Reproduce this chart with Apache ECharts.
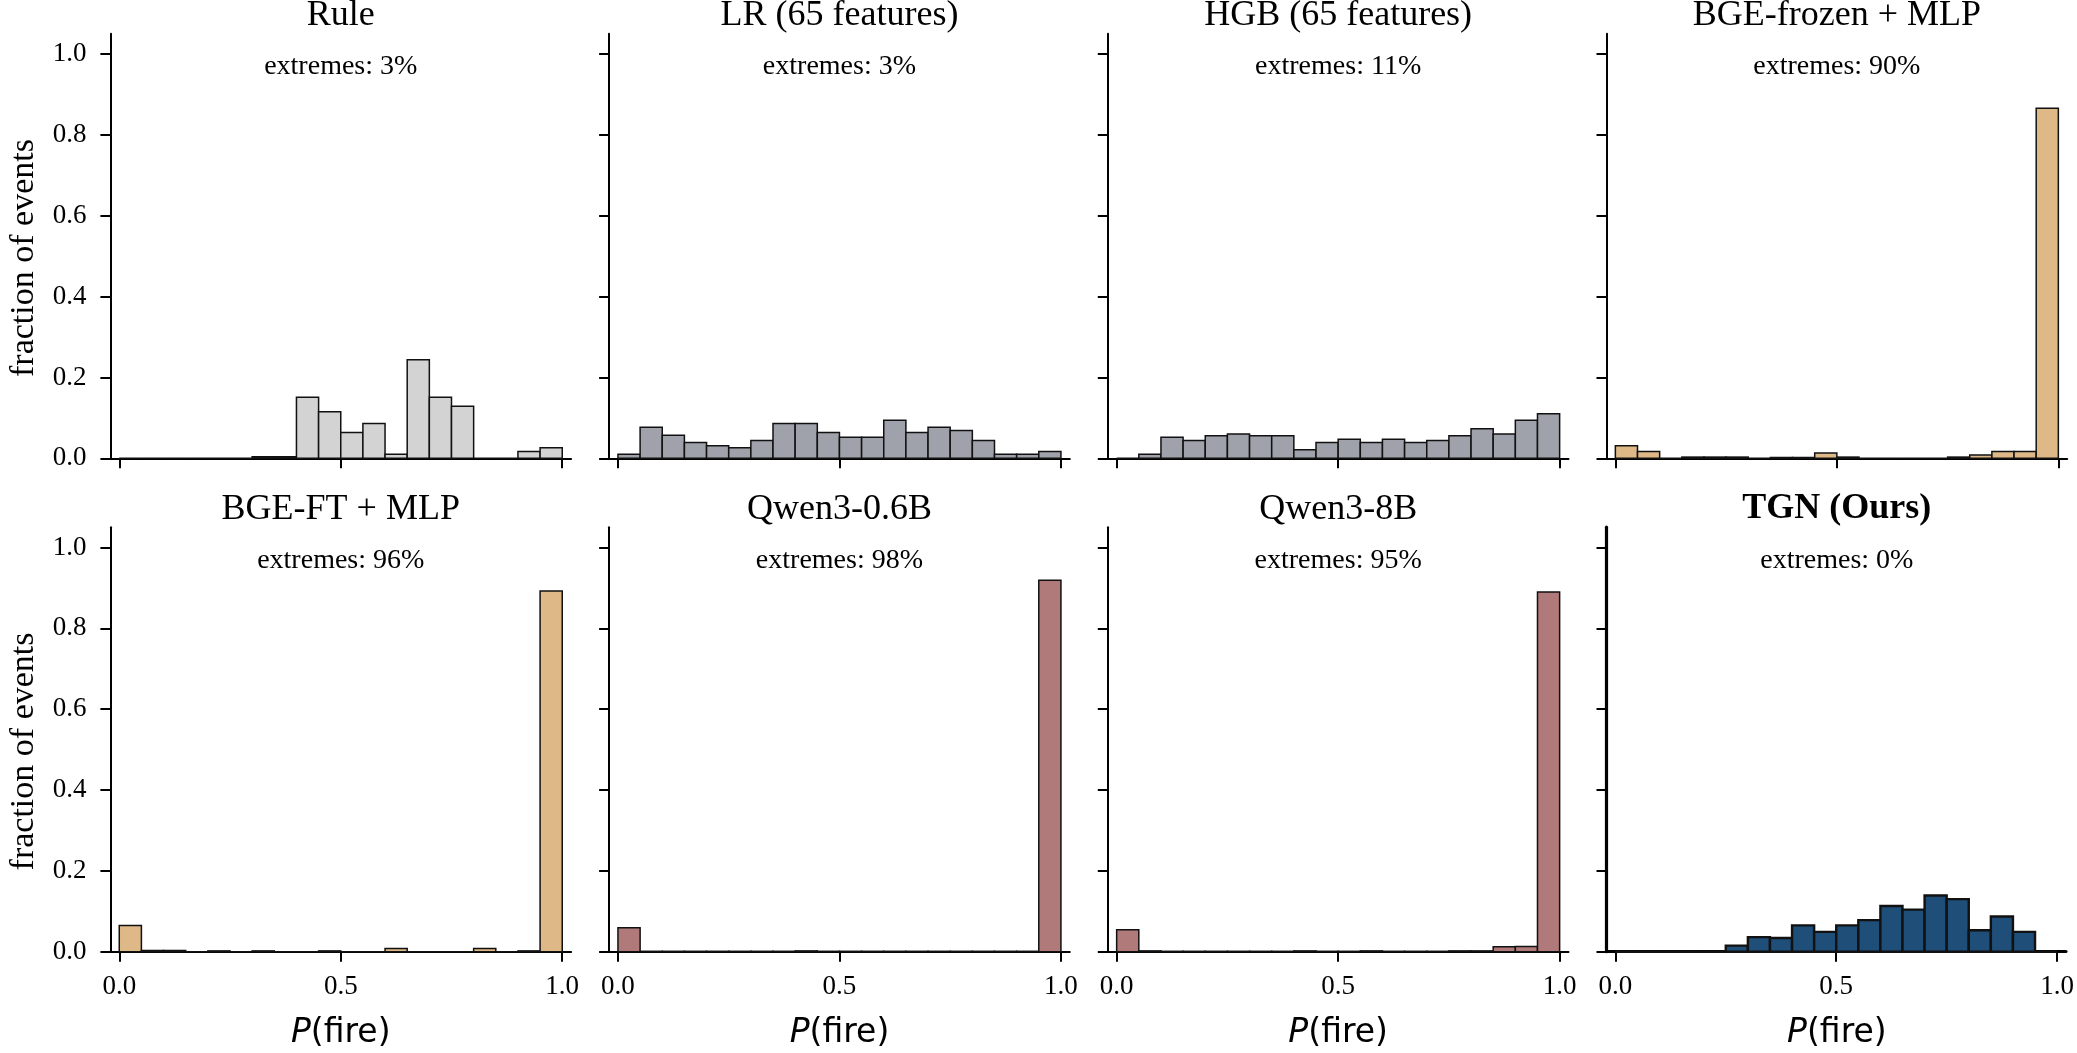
<!DOCTYPE html>
<html>
<head>
<meta charset="utf-8">
<script src="https://cdn.jsdelivr.net/npm/echarts@6/dist/echarts.min.js"></script>
<style>
  html, body { margin: 0; padding: 0; background: #fff; }
  #chart { width: 2077px; height: 1053px; }
</style>
</head>
<body>
<div id="chart"></div>
<script>
// 直方图的分箱左边界（宽 0.05）
const binLeft = [0.00, 0.05, 0.10, 0.15, 0.20, 0.25, 0.30, 0.35, 0.40, 0.45,
  0.50, 0.55, 0.60, 0.65, 0.70, 0.75, 0.80, 0.85, 0.90, 0.95]
const binWidth = 0.05

const panelNames = ['Rule', 'LR (65 features)', 'HGB (65 features)', 'BGE-frozen + MLP',
  'BGE-FT + MLP', 'Qwen3-0.6B', 'Qwen3-8B', 'TGN (Ours)']
const extremes = ['3%', '3%', '11%', '90%', '96%', '98%', '95%', '0%']

// 每个模型的 fraction of events
const ruleVals = [0, 0, 0, 0, 0, 0, 0.004, 0.004, 0.151, 0.115, 0.064, 0.086, 0.010, 0.244, 0.151, 0.129, 0, 0, 0.017, 0.026]
const lrVals = [0.010, 0.077, 0.057, 0.039, 0.031, 0.026, 0.044, 0.086, 0.086, 0.064, 0.052, 0.052, 0.094, 0.064, 0.077, 0.069, 0.044, 0.010, 0.010, 0.017]
const hgbVals = [0, 0.010, 0.052, 0.044, 0.056, 0.060, 0.056, 0.056, 0.021, 0.039, 0.047, 0.039, 0.047, 0.039, 0.044, 0.056, 0.073, 0.060, 0.094, 0.110]
const bgeFrozenVals = [0.031, 0.017, 0, 0.003, 0.003, 0.003, 0, 0.002, 0.002, 0.013, 0.003, 0, 0, 0, 0, 0.003, 0.008, 0.017, 0.017, 0.866]
const bgeFtVals = [0.065, 0.003, 0.003, 0, 0.002, 0, 0.002, 0, 0, 0.002, 0, 0, 0.008, 0, 0, 0, 0.008, 0, 0.002, 0.892]
const qwenSmallVals = [0.059, 0.001, 0.001, 0.001, 0.001, 0.001, 0.001, 0.001, 0.002, 0.001, 0.001, 0.001, 0.001, 0.001, 0.001, 0.001, 0.001, 0.001, 0.001, 0.919]
const qwenLargeVals = [0.054, 0.002, 0.001, 0.001, 0.001, 0.001, 0.001, 0.001, 0.002, 0.001, 0.001, 0.002, 0.001, 0.001, 0.001, 0.002, 0.002, 0.012, 0.013, 0.890]
const tgnVals = [0, 0, 0, 0, 0, 0.015, 0.036, 0.034, 0.065, 0.049, 0.065, 0.078, 0.113, 0.104, 0.139, 0.130, 0.053, 0.087, 0.049, 0]

const panelValues = [ruleVals, lrVals, hgbVals, bgeFrozenVals, bgeFtVals, qwenSmallVals, qwenLargeVals, tgnVals]
const panelColors = ['#d3d3d3', '#9fa2ab', '#9fa2ab', '#deb887', '#deb887', '#b07a7a', '#b07a7a', '#1f4e79']

const yTicks = [0, 0.2, 0.4, 0.6, 0.8, 1.0]
const xTicks = [0, 0.5, 1.0]

// 版面
const gridLefts = [110.4, 609.1, 1107.8, 1606.5]
const gridTops = [33.8, 527.2]
const gridW = 460.7
const gridH = 424.5
const serif = '"Liberation Serif", "Times New Roman", Times, serif'

let grids = [], xAxes = [], yAxes = [], series = [], texts = []

for (let i = 0; i < 8; i++) {
  let row = Math.floor(i / 4)
  let col = i % 4
  let ours = i === 7
  let spineW = ours ? 3.2 : 2
  let left = gridLefts[col]
  let top = gridTops[row]

  grids.push({ left: left, top: top, width: gridW, height: gridH })

  xAxes.push({
    gridIndex: i,
    type: 'value',
    min: -0.02,
    max: 1.02,
    splitLine: { show: false },
    axisLine: { onZero: false, lineStyle: { color: '#000', width: spineW } },
    axisTick: { customValues: xTicks, length: 10, lineStyle: { color: '#000', width: 2 } },
    axisLabel: {
      show: row === 1,
      customValues: xTicks,
      formatter: v => v.toFixed(1),
      margin: 22,
      fontSize: 27,
      fontFamily: serif,
      color: '#000'
    }
  })

  yAxes.push({
    gridIndex: i,
    type: 'value',
    min: 0,
    max: 1.05,
    splitLine: { show: false },
    axisLine: { show: true, onZero: false, lineStyle: { color: '#000', width: spineW } },
    axisTick: { show: true, customValues: yTicks, length: 10, lineStyle: { color: '#000', width: 2 } },
    axisLabel: {
      show: col === 0,
      customValues: yTicks,
      formatter: v => v.toFixed(1),
      margin: 24,
      fontSize: 27,
      fontFamily: serif,
      color: '#000'
    }
  })

  let vals = panelValues[i]
  let color = panelColors[i]
  series.push({
    type: 'custom',
    xAxisIndex: i,
    yAxisIndex: i,
    data: binLeft.map((b, k) => [b, vals[k]]),
    renderItem: function (params, api) {
      let x0 = api.value(0)
      let p0 = api.coord([x0, api.value(1)])
      let p1 = api.coord([x0 + binWidth, 0])
      return {
        type: 'rect',
        shape: { x: p0[0], y: p0[1], width: p1[0] - p0[0], height: p1[1] - p0[1] },
        style: { fill: color, stroke: '#111', lineWidth: ours ? 2.4 : 1.5 }
      }
    }
  })

  let cx = left + gridW / 2
  texts.push({
    type: 'text', x: cx, y: top - 18,
    style: {
      text: panelNames[i], textAlign: 'center', textVerticalAlign: 'middle',
      fontSize: 36, fontFamily: serif, fontWeight: ours ? 'bold' : 'normal', fill: '#000'
    }
  })
  texts.push({
    type: 'text', x: cx, y: top + 33,
    style: {
      text: 'extremes: ' + extremes[i], textAlign: 'center', textVerticalAlign: 'middle',
      fontSize: 28, fontFamily: serif, fill: '#000'
    }
  })

  if (col === 0) {
    texts.push({
      type: 'text', x: 24, y: top + gridH / 2 + 12, rotation: Math.PI / 2,
      style: {
        text: 'fraction of events', textAlign: 'center', textVerticalAlign: 'middle',
        fontSize: 34, fontFamily: serif, fill: '#000'
      }
    })
  }
  if (row === 1) {
    texts.push({
      type: 'text', x: left + 8.86 + 443 / 2, y: 1033,
      style: {
        text: '{i|P}{n|(fire)}', textAlign: 'center', textVerticalAlign: 'middle',
        rich: {
          i: { fontSize: 33, fontFamily: '"DejaVu Sans"', fontStyle: 'italic', fill: '#000' },
          n: { fontSize: 33, fontFamily: '"DejaVu Sans"', fill: '#000' }
        }
      }
    })
  }
}

let myChart = echarts.init(document.getElementById('chart'), null, { renderer: 'canvas' })
myChart.setOption({
  animation: false,
  backgroundColor: '#fff',
  grid: grids,
  xAxis: xAxes,
  yAxis: yAxes,
  series: series,
  graphic: texts
})
</script>
</body>
</html>
